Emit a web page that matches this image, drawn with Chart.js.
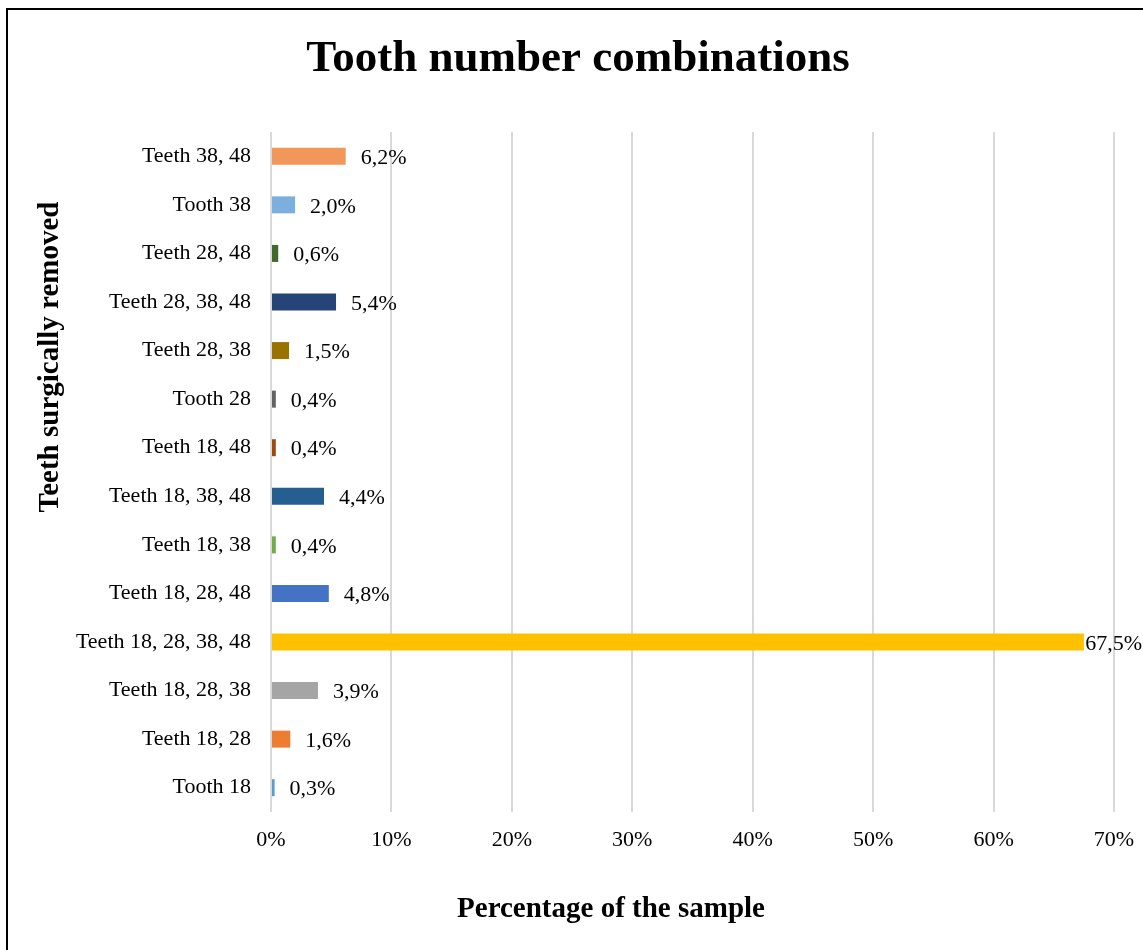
<!DOCTYPE html>
<html>
<head>
<meta charset="utf-8">
<script src="https://cdn.jsdelivr.net/npm/chart.js@4.4.0/dist/chart.umd.min.js"></script>
<style>
  html, body { margin: 0; padding: 0; background: #fff; }
  #wrap { width: 1143px; height: 950px; }
</style>
</head>
<body>
<div id="wrap"><canvas id="toothChart" width="1143" height="950"></canvas></div>
<script>
const categories = [
  'Teeth 38, 48', 'Tooth 38', 'Teeth 28, 48', 'Teeth 28, 38, 48', 'Teeth 28, 38',
  'Tooth 28', 'Teeth 18, 48', 'Teeth 18, 38, 48', 'Teeth 18, 38', 'Teeth 18, 28, 48',
  'Teeth 18, 28, 38, 48', 'Teeth 18, 28, 38', 'Teeth 18, 28', 'Tooth 18'
];
const percentages = [6.2, 2.0, 0.6, 5.4, 1.5, 0.4, 0.4, 4.4, 0.4, 4.8, 67.5, 3.9, 1.6, 0.3];
const barColors = [
  '#F1975A', '#7CAFDD', '#43682B', '#264478', '#997300',
  '#636363', '#9E480E', '#255E91', '#70AD47', '#4472C4',
  '#FFC000', '#A5A5A5', '#ED7D31', '#5B9BD5'
];
const xTicks = [0, 10, 20, 30, 40, 50, 60, 70];

const SERIF = "'Liberation Serif','Times New Roman',serif";

function fmtPct(v) {
  return v.toFixed(1).replace('.', ',') + '%';
}

// frame + white background
const framePlugin = {
  id: 'frame',
  beforeDraw(chart) {
    const ctx = chart.ctx;
    ctx.save();
    ctx.fillStyle = '#fff';
    ctx.fillRect(0, 0, chart.width, chart.height);
    ctx.strokeStyle = '#000';
    ctx.lineWidth = 2;
    ctx.strokeRect(7, 9, 1300, 1100);
    ctx.restore();
  }
};

// title and axis titles placed like the Excel original
const titlesPlugin = {
  id: 'titles',
  afterDraw(chart) {
    const ctx = chart.ctx;
    ctx.save();
    ctx.fillStyle = '#000';
    ctx.textAlign = 'center';
    ctx.textBaseline = 'middle';

    ctx.font = 'bold 45px ' + SERIF;
    ctx.fillText('Tooth number combinations', 578, 59);

    ctx.font = 'bold 29px ' + SERIF;
    ctx.fillText('Percentage of the sample', 611, 910);

    ctx.translate(51, 357);
    ctx.rotate(-Math.PI / 2);
    ctx.fillText('Teeth surgically removed', 0, 0);
    ctx.restore();
  }
};

// value labels at the end of each bar
const valueLabels = {
  id: 'valueLabels',
  afterDatasetsDraw(chart) {
    const ctx = chart.ctx;
    const meta = chart.getDatasetMeta(0);
    ctx.save();
    ctx.font = '22px ' + SERIF;
    ctx.fillStyle = '#000';
    ctx.textAlign = 'left';
    ctx.textBaseline = 'middle';
    meta.data.forEach((bar, i) => {
      const txt = fmtPct(percentages[i]);
      const w = ctx.measureText(txt).width;
      const x = Math.min(bar.x + 15, chart.width - w - 1);
      ctx.fillText(txt, x, bar.y + 2);
    });
    ctx.restore();
  }
};

const ctx = document.getElementById('toothChart').getContext('2d');
new Chart(ctx, {
  type: 'bar',
  data: {
    labels: categories,
    datasets: [{
      data: percentages,
      backgroundColor: barColors,
      borderWidth: 0,
      categoryPercentage: 1,
      barPercentage: 0.35,
    }],
  },
  options: {
    indexAxis: 'y',
    responsive: false,
    animation: false,
    layout: { padding: { left: 0, right: 29, top: 132, bottom: 0 } },
    plugins: {
      legend: { display: false },
      title: { display: false },
      tooltip: { enabled: false },
    },
    scales: {
      x: {
        min: 0,
        max: 70,
        afterBuildTicks: (scale) => { scale.ticks = xTicks.map((v) => ({ value: v })); },
        afterFit: (scale) => {
          scale.height = 138;
          scale.paddingLeft = 0;
          scale.paddingRight = 0;
        },
        ticks: {
          color: '#000',
          font: { family: SERIF, size: 22 },
          padding: 15,
          callback: (v) => v + '%',
          maxRotation: 0,
        },
        grid: { color: '#D9D9D9', lineWidth: 2, drawTicks: false },
        border: { display: false },
      },
      y: {
        afterFit: (scale) => { scale.width = 271; },
        ticks: {
          color: '#000',
          font: { family: SERIF, size: 22 },
          padding: 20,
        },
        grid: { display: false, drawTicks: false },
        border: { display: false },
      },
    },
  },
  plugins: [framePlugin, valueLabels, titlesPlugin],
});
</script>
</body>
</html>
